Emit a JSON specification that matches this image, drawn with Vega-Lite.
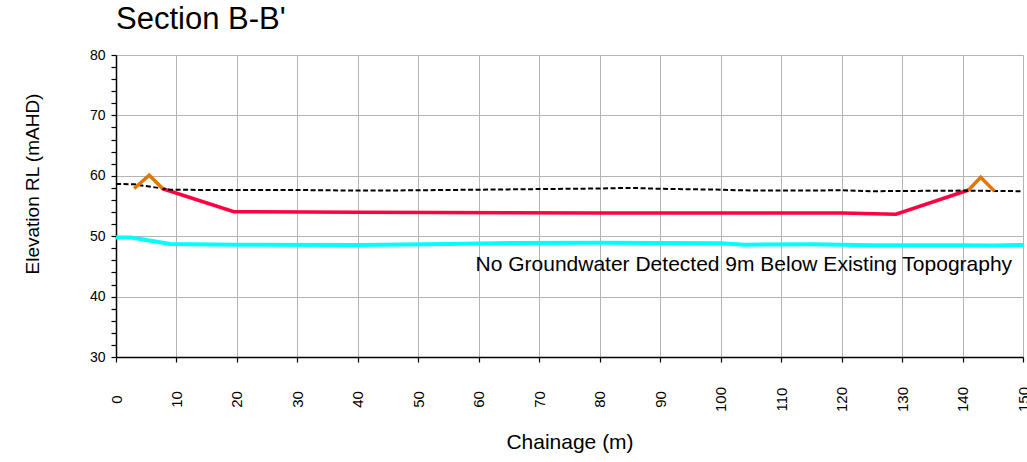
{
  "$schema": "https://vega.github.io/schema/vega-lite/v6.json",
  "width": 907,
  "height": 302,
  "autosize": {"type": "none"},
  "padding": {"left": 116, "top": 55, "right": 4, "bottom": 105},
  "background": "white",
  "config": {
    "view": {"stroke": null},
    "font": "Liberation Sans"
  },
  "title": {
    "text": "Section B-B'",
    "anchor": "start",
    "frame": "group",
    "fontSize": 31,
    "fontWeight": "normal",
    "font": "Liberation Sans",
    "color": "black",
    "offset": 12
  },
  "datasets": {
    "profiles": [
      {"series": "topo", "x": 0, "y": 58.65},
      {"series": "topo", "x": 3, "y": 58.6},
      {"series": "topo", "x": 9, "y": 57.7},
      {"series": "topo", "x": 15, "y": 57.65},
      {"series": "topo", "x": 30, "y": 57.65},
      {"series": "topo", "x": 40, "y": 57.55},
      {"series": "topo", "x": 50, "y": 57.6},
      {"series": "topo", "x": 60, "y": 57.7},
      {"series": "topo", "x": 70, "y": 57.8},
      {"series": "topo", "x": 80, "y": 57.9},
      {"series": "topo", "x": 85, "y": 58.0},
      {"series": "topo", "x": 90, "y": 57.85},
      {"series": "topo", "x": 100, "y": 57.7},
      {"series": "topo", "x": 103, "y": 57.6},
      {"series": "topo", "x": 110, "y": 57.55},
      {"series": "topo", "x": 120, "y": 57.6},
      {"series": "topo", "x": 125, "y": 57.45},
      {"series": "topo", "x": 140, "y": 57.55},
      {"series": "topo", "x": 145, "y": 57.5},
      {"series": "topo", "x": 150, "y": 57.45},
      {"series": "design", "x": 7.6, "y": 57.9},
      {"series": "design", "x": 19.5, "y": 54.05},
      {"series": "design", "x": 40, "y": 53.95},
      {"series": "design", "x": 80, "y": 53.85},
      {"series": "design", "x": 120, "y": 53.85},
      {"series": "design", "x": 129, "y": 53.65},
      {"series": "design", "x": 141, "y": 57.65},
      {"series": "bundL", "x": 3, "y": 57.9},
      {"series": "bundL", "x": 5.5, "y": 60.1},
      {"series": "bundL", "x": 7.7, "y": 57.9},
      {"series": "bundR", "x": 141, "y": 57.65},
      {"series": "bundR", "x": 143, "y": 59.75},
      {"series": "bundR", "x": 145.3, "y": 57.45},
      {"series": "gw", "x": 0, "y": 49.8},
      {"series": "gw", "x": 2.5, "y": 49.8},
      {"series": "gw", "x": 6, "y": 49.2},
      {"series": "gw", "x": 9, "y": 48.7},
      {"series": "gw", "x": 20, "y": 48.6},
      {"series": "gw", "x": 40, "y": 48.55},
      {"series": "gw", "x": 55, "y": 48.7},
      {"series": "gw", "x": 63, "y": 48.85},
      {"series": "gw", "x": 80, "y": 48.9},
      {"series": "gw", "x": 100, "y": 48.85},
      {"series": "gw", "x": 104, "y": 48.6},
      {"series": "gw", "x": 115, "y": 48.65},
      {"series": "gw", "x": 120, "y": 48.6},
      {"series": "gw", "x": 125, "y": 48.5},
      {"series": "gw", "x": 140, "y": 48.5},
      {"series": "gw", "x": 145, "y": 48.45},
      {"series": "gw", "x": 150, "y": 48.55}
    ],
    "notes": [
      {"note": "No Groundwater Detected 9m Below Existing Topography", "x": 148.2, "y": 44.29}
    ]
  },
  "data": {"name": "profiles"},
  "encoding": {
    "x": {
      "field": "x",
      "type": "quantitative",
      "scale": {"domain": [0, 150], "nice": false, "zero": false},
      "axis": {
        "title": "Chainage (m)",
        "values": [0, 10, 20, 30, 40, 50, 60, 70, 80, 90, 100, 110, 120, 130, 140, 150],
        "grid": true,
        "gridColor": "#b4b4b4",
        "gridWidth": 1,
        "domainColor": "black",
        "domainWidth": 1.5,
        "tickColor": "black",
        "tickWidth": 1.2,
        "tickSize": 5,
        "labelAngle": -90,
        "labelAlign": "center",
        "labelBaseline": "middle",
        "labelPadding": 37,
        "labelFontSize": 15,
        "labelColor": "black",
        "labelFont": "Liberation Sans",
        "labelOverlap": false,
        "titleFontSize": 21,
        "titleFontWeight": "normal",
        "titleColor": "black",
        "titleFont": "Liberation Sans",
        "titleX": 453.5,
        "titleY": 91,
        "titleAlign": "center",
        "titleBaseline": "alphabetic"
      }
    },
    "y": {
      "field": "y",
      "type": "quantitative",
      "scale": {"domain": [30, 80], "nice": false, "zero": false},
      "axis": {
        "title": "Elevation RL (mAHD)",
        "values": [30, 32, 34, 36, 38, 40, 42, 44, 46, 48, 50, 52, 54, 56, 58, 60, 62, 64, 66, 68, 70, 72, 74, 76, 78, 80],
        "labelExpr": "datum.value % 10 == 0 ? datum.label : ''",
        "grid": true,
        "gridColor": "#b4b4b4",
        "gridWidth": 1,
        "gridOpacity": {"condition": {"test": "datum.value % 10 == 0", "value": 1}, "value": 0},
        "domainColor": "black",
        "domainWidth": 1.5,
        "tickColor": "black",
        "tickWidth": 1.2,
        "tickSize": 5,
        "labelPadding": 6,
        "labelFontSize": 14,
        "labelColor": "black",
        "labelFont": "Liberation Sans",
        "labelOverlap": false,
        "titleFontSize": 19,
        "titleFontWeight": "normal",
        "titleColor": "black",
        "titleFont": "Liberation Sans",
        "titleAngle": 270,
        "titleX": -84,
        "titleY": 128.5,
        "titleAlign": "center",
        "titleBaseline": "middle"
      }
    }
  },
  "layer": [
    {
      "transform": [{"filter": "datum.series == 'gw'"}],
      "mark": {"type": "line", "color": "#00FFFF", "strokeWidth": 4}
    },
    {
      "transform": [{"filter": "datum.series == 'design'"}],
      "mark": {"type": "line", "color": "#FF0040", "strokeWidth": 3.5}
    },
    {
      "transform": [{"filter": "datum.series == 'topo'"}],
      "mark": {"type": "line", "color": "black", "strokeWidth": 2, "strokeDash": [5, 2.5]}
    },
    {
      "transform": [{"filter": "datum.series == 'bundL'"}],
      "mark": {"type": "line", "color": "#E07800", "strokeWidth": 3.5}
    },
    {
      "transform": [{"filter": "datum.series == 'bundR'"}],
      "mark": {"type": "line", "color": "#E07800", "strokeWidth": 3.5}
    },
    {
      "data": {"name": "notes"},
      "mark": {"type": "text", "align": "right", "baseline": "alphabetic", "fontSize": 21, "font": "Liberation Sans", "color": "black"},
      "encoding": {
        "text": {"field": "note", "type": "nominal"}
      }
    }
  ]
}
